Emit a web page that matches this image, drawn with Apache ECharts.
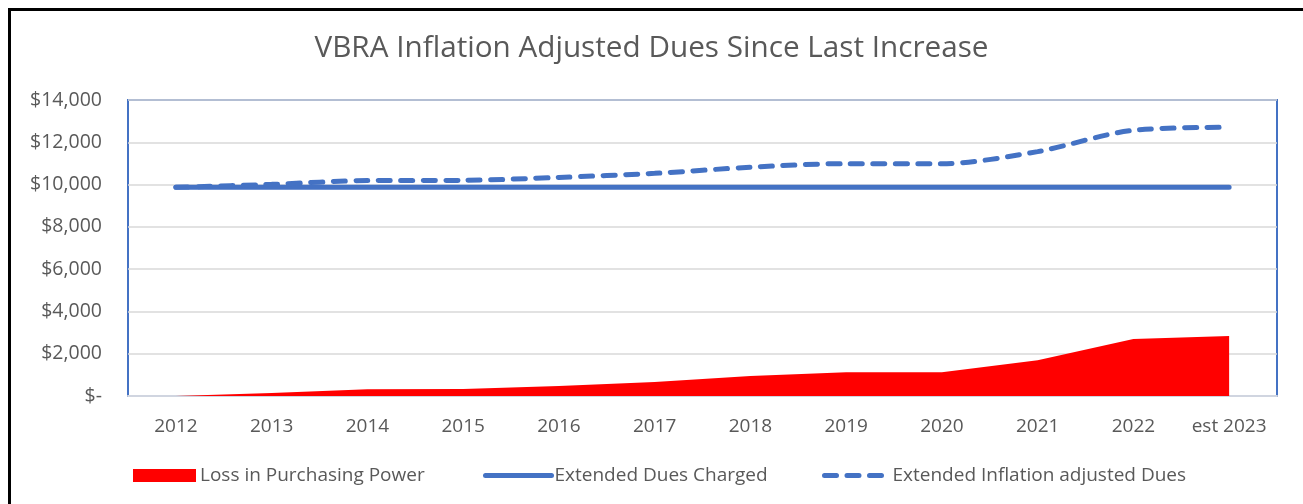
<!DOCTYPE html>
<html>
<head>
<meta charset="utf-8">
<script src="https://cdn.jsdelivr.net/npm/echarts@6/dist/echarts.min.js"></script>
<style>
html,body{margin:0;padding:0;background:#fff;overflow:hidden;}
#chart{position:absolute;left:0;top:0;width:1303px;height:504px;}
#frame{position:absolute;left:8px;top:8px;width:2000px;height:2000px;border:3px solid #000;pointer-events:none;}
</style>
</head>
<body>
<div id="chart"></div>
<div id="frame"></div>
<script>
const categories = ['2012','2013','2014','2015','2016','2017','2018','2019','2020','2021','2022','est 2023'];
const lossInPurchasingPower = [0, 140, 320, 330, 470, 660, 950, 1120, 1120, 1690, 2700, 2840];
const extendedDuesCharged = [9870, 9870, 9870, 9870, 9870, 9870, 9870, 9870, 9870, 9870, 9870, 9870];
const extendedInflationAdjusted = [9870, 10010, 10190, 10200, 10340, 10530, 10820, 10990, 10990, 11560, 12570, 12710];
const yTicks = { min: 0, max: 14000, interval: 2000 };

const FONT = 'Open Sans';
const GREY = '#595959';
const BLUE = '#4472C4';
const RED = '#FF0000';
const hiddenSymbol = { color: 'transparent', borderWidth: 0, opacity: 0 };

const chart = echarts.init(document.getElementById('chart'));
chart.setOption({
  animation: false,
  backgroundColor: '#fff',
  textStyle: { fontFamily: FONT, color: GREY },
  title: {
    text: 'VBRA Inflation Adjusted Dues Since Last Increase',
    left: 'center', top: 29,
    textStyle: { fontFamily: FONT, fontSize: 29.7, fontWeight: 'normal', color: GREY }
  },
  grid: {
    left: 128, right: 26, top: 100, bottom: 108,
    show: true, borderColor: BLUE, borderWidth: 2, backgroundColor: 'transparent'
  },
  legend: [
    { left: 133, top: 466, padding: 0, itemWidth: 63, itemHeight: 13, itemGap: 0,
      data: [{ name: 'Loss in Purchasing Power', icon: 'rect' }],
      textStyle: { fontFamily: FONT, fontSize: 19, color: GREY, padding: [0,0,0,-1] } },
    { left: 483, top: 466, padding: 0, itemWidth: 66, itemHeight: 13, itemGap: 0,
      data: ['Extended Dues Charged'],
      itemStyle: hiddenSymbol,
      lineStyle: { width: 5, cap: 'round', opacity: 1 },
      textStyle: { fontFamily: FONT, fontSize: 19, color: GREY, padding: [0,0,0,-2] } },
    { left: 822, top: 466, padding: 0, itemWidth: 63, itemHeight: 13, itemGap: 0,
      data: ['Extended Inflation adjusted Dues'],
      itemStyle: hiddenSymbol,
      lineStyle: { width: 5, cap: 'round', type: [12, 10.5], opacity: 1 },
      textStyle: { fontFamily: FONT, fontSize: 19, color: GREY, padding: [0,0,0,0] } }
  ],
  xAxis: {
    type: 'category',
    data: categories,
    boundaryGap: true,
    axisLine: { show: true, lineStyle: { color: '#D0D5E0', width: 2 } },
    axisTick: { show: false },
    axisLabel: { fontFamily: FONT, fontSize: 19, color: GREY, margin: 21, interval: 0, hideOverlap: false },
    splitLine: { show: false }
  },
  yAxis: {
    type: 'value',
    min: yTicks.min, max: yTicks.max, interval: yTicks.interval,
    axisLine: { show: false },
    axisTick: { show: false },
    axisLabel: {
      fontFamily: FONT, fontSize: 19.5, color: GREY, margin: 26,
      formatter: v => v === 0 ? '$-' : '$' + v.toLocaleString('en-US')
    },
    splitLine: { show: true, lineStyle: { color: '#D9D9D9', width: 1.5 } }
  },
  series: [
    {
      name: 'Loss in Purchasing Power',
      type: 'line',
      data: lossInPurchasingPower,
      symbol: 'none',
      itemStyle: { color: RED },
      lineStyle: { width: 0, color: RED },
      areaStyle: { color: RED, opacity: 1 },
      z: 2
    },
    {
      name: 'Extended Dues Charged',
      type: 'line',
      data: extendedDuesCharged,
      symbol: 'none',
      itemStyle: { color: BLUE },
      lineStyle: { width: 5, color: BLUE, cap: 'round' },
      z: 3
    },
    {
      name: 'Extended Inflation adjusted Dues',
      type: 'line',
      data: extendedInflationAdjusted,
      symbol: 'none',
      smooth: 0.3,
      itemStyle: { color: BLUE },
      lineStyle: { width: 5, color: BLUE, cap: 'round', type: [12, 10.5] },
      z: 4
    }
  ]
});
</script>
</body>
</html>
